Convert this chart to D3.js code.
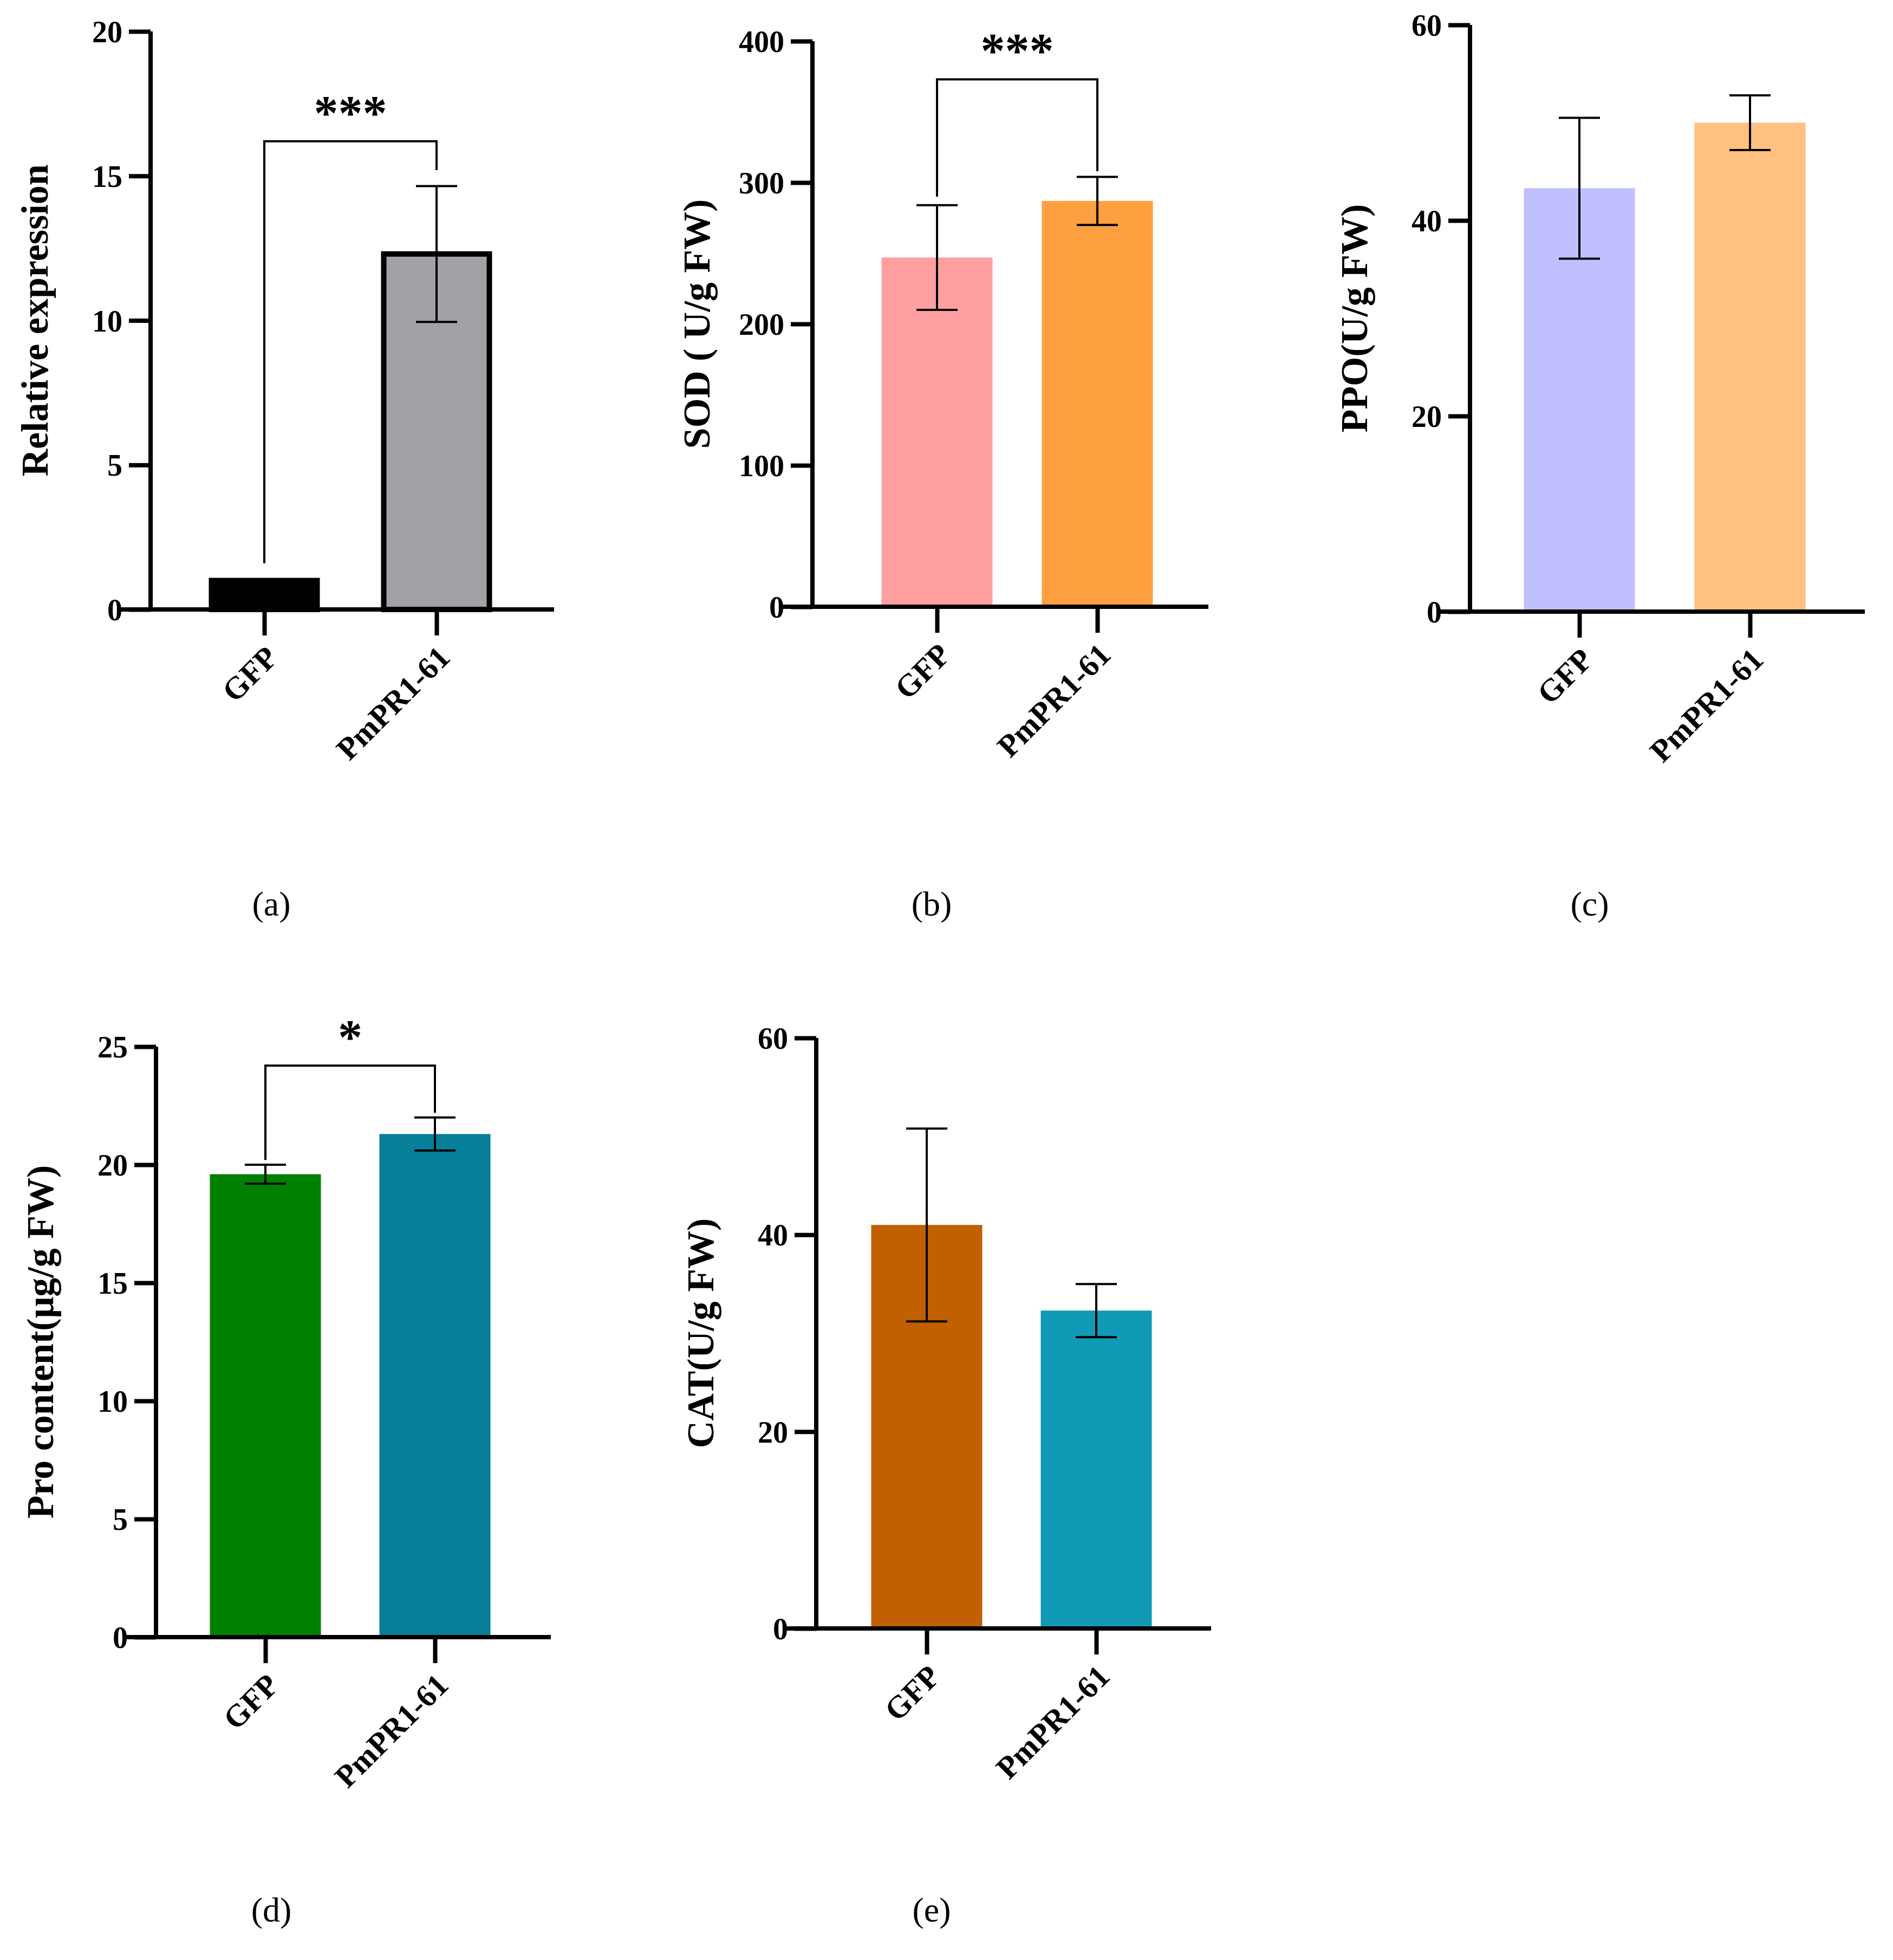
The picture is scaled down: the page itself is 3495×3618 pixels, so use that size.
<!DOCTYPE html>
<html lang="en">
<head>
<meta charset="UTF-8">
<title>D3</title>
<script src="https://cdnjs.cloudflare.com/ajax/libs/d3/7.8.5/d3.min.js"></script>
<style>
  body { margin: 0; background: #fff; }
  svg { font-family: "Liberation Serif", "Times New Roman", serif; font-weight: bold; }
</style>
</head>
<body>
<svg width="3495" height="3618"></svg>
<script>
const categories = ['GFP', 'PmPR1-61']

const exprMean = [1.0, 12.3]
const exprErr = [0.05, 2.35]
const sodMean = [247, 287]
const sodErr = [37, 17]
const ppoMean = [43.3, 50.0]
const ppoErr = [7.2, 2.8]
const proMean = [19.6, 21.3]
const proErr = [0.4, 0.7]
const catMean = [41.0, 32.3]
const catErr = [9.8, 2.7]

const panels = [
  { label: '(a)', title: 'Relative expression', mean: exprMean, err: exprErr, max: 20, ticks: [0, 5, 10, 15, 20],
    colors: ['#000000', '#a2a1a6'], outlined: true,
    ax: 278, x1: 1023, top: 58, bottom: 1125, cx: [488, 806], lx: 501, ly: 1690,
    sig: { text: '***', y: 16.2, left: 1.6, right: 15.2 } },
  { label: '(b)', title: 'SOD ( U/g FW)', mean: sodMean, err: sodErr, max: 400, ticks: [0, 100, 200, 300, 400],
    colors: ['#ff9f9f', '#ffa040'],
    ax: 1500, x1: 2231, top: 76, bottom: 1120, cx: [1730, 2026], lx: 1720, ly: 1690,
    sig: { text: '***', y: 373, left: 290, right: 308 } },
  { label: '(c)', title: 'PPO(U/g FW)', mean: ppoMean, err: ppoErr, max: 60, ticks: [0, 20, 40, 60],
    colors: ['#c0c0ff', '#ffc080'],
    ax: 2714, x1: 3443, top: 46, bottom: 1129, cx: [2916, 3231], lx: 2935, ly: 1690 },
  { label: '(d)', title: 'Pro content(μg/g FW)', mean: proMean, err: proErr, max: 25, ticks: [0, 5, 10, 15, 20, 25],
    colors: ['#008000', '#077f98'],
    ax: 288, x1: 1017, top: 1932, bottom: 3022, cx: [490, 803], lx: 501, ly: 3547,
    sig: { text: '*', y: 24.2, left: 20.2, right: 22.2 } },
  { label: '(e)', title: 'CAT(U/g FW)', mean: catMean, err: catErr, max: 60, ticks: [0, 20, 40, 60],
    colors: ['#c06000', '#119ab5'],
    ax: 1507, x1: 2236, top: 1916, bottom: 3006, cx: [1711, 2024], lx: 1720, ly: 3547 }
]

const svg = d3.select('svg')
const barW = 205

panels.forEach(p => {
  const g = svg.append('g')
  const y = d3.scaleLinear().domain([0, p.max]).range([p.bottom, p.top])
  const x = d3.scalePoint().domain(categories).range(p.cx)
  const data = categories.map((c, i) => ({ c, m: p.mean[i], e: p.err[i], col: p.colors[i] }))

  // bars
  g.selectAll('rect.bar').data(data).enter().append('rect')
    .attr('x', d => x(d.c) - barW / 2 + (p.outlined ? 5 : 0))
    .attr('width', barW - (p.outlined ? 10 : 0))
    .attr('y', d => y(d.m))
    .attr('height', d => p.bottom - y(d.m))
    .attr('fill', d => d.col)
    .attr('stroke', p.outlined ? '#000' : 'none')
    .attr('stroke-width', 10)

  // error bars
  const eb = g.selectAll('g.err').data(data).enter().append('g')
    .attr('stroke', '#000').attr('stroke-width', 4)
  eb.append('line').attr('x1', d => x(d.c)).attr('x2', d => x(d.c))
    .attr('y1', d => y(d.m - d.e)).attr('y2', d => y(d.m + d.e))
  eb.append('line').attr('x1', d => x(d.c) - 38).attr('x2', d => x(d.c) + 38)
    .attr('y1', d => y(d.m + d.e)).attr('y2', d => y(d.m + d.e))
  eb.append('line').attr('x1', d => x(d.c) - 38).attr('x2', d => x(d.c) + 38)
    .attr('y1', d => y(d.m - d.e)).attr('y2', d => y(d.m - d.e))

  // y axis
  const yAxis = g.append('g').attr('transform', `translate(${p.ax},0)`)
    .call(d3.axisLeft(y).tickValues(p.ticks).tickSize(40).tickPadding(12))
  yAxis.select('.domain').attr('stroke-width', 8).attr('d', `M0,${p.top}V${p.bottom}`)
  yAxis.selectAll('.tick line').attr('stroke-width', 8)
  yAxis.selectAll('.tick text').attr('font-size', 56).attr('font-family', 'Liberation Serif').attr('font-weight', 'bold')
    .attr('fill', '#000').attr('dy', '0.35em')

  // x axis
  const xAxis = g.append('g').attr('transform', `translate(0,${p.bottom})`)
    .call(d3.axisBottom(x).tickSize(48).tickFormat(''))
  xAxis.select('.domain').attr('stroke-width', 8).attr('d', `M${p.ax - 55},0H${p.x1}`)
  xAxis.selectAll('.tick line').attr('stroke-width', 8)

  g.selectAll('text.xl').data(categories).enter().append('text')
    .attr('text-anchor', 'end')
    .attr('font-size', 58)
    .attr('transform', c => `translate(${x(c) + 28},${p.bottom + 92}) rotate(-45)`)
    .text(c => c)

  // axis title
  g.append('text')
    .attr('transform', `translate(${p.ax - 190},${(p.top + p.bottom) / 2}) rotate(-90)`)
    .attr('text-anchor', 'middle').attr('font-size', 70)
    .text(p.title)

  // panel label
  g.append('text').attr('x', p.lx).attr('y', p.ly).attr('text-anchor', 'middle')
    .attr('font-size', 64).attr('font-weight', 'normal').text(p.label)

  // significance bracket
  if (p.sig) {
    const xa = x(categories[0]), xb = x(categories[1])
    g.append('path').attr('fill', 'none').attr('stroke', '#000').attr('stroke-width', 4)
      .attr('d', `M${xa},${y(p.sig.left)}V${y(p.sig.y)}H${xb}V${y(p.sig.right)}`)
    g.append('text').attr('x', (xa + xb) / 2).attr('y', y(p.sig.y) - 22)
      .attr('text-anchor', 'middle').attr('font-size', 90).text(p.sig.text)
  }
})
</script>
</body>
</html>
